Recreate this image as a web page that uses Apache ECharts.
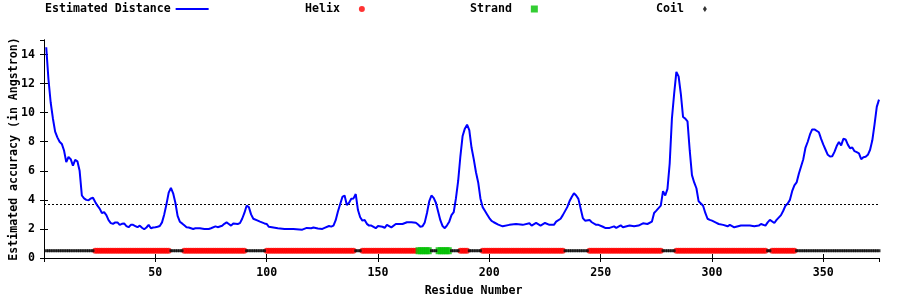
<!DOCTYPE html>
<html>
<head>
<meta charset="utf-8">
<script src="https://cdn.jsdelivr.net/npm/echarts@6/dist/echarts.min.js"></script>
<style>
  html, body { margin: 0; padding: 0; background: #ffffff; }
  #chart { width: 900px; height: 300px; }
</style>
</head>
<body>
<div id="chart"></div>
<script>
// ---- Data ----
var residues = [1,2,3,4,5,6,7,8,9,10,11,12,13,14,15,16,17,18,19,20,21,22,23,24,25,26,27,28,29,30,31,32,33,34,35,36,37,38,39,40,41,42,43,44,45,46,47,48,49,50,51,52,53,54,55,56,57,58,59,60,61,62,63,64,65,66,67,68,70,72,74,75,77,78,80,81,82,83,84,85,87,88,89,90,91,92,93,94,96,97,99,100,101,103,105,108,112,116,118,120,121,123,125,126,128,129,130,131,132,133,134,135,136,137,138,139,140,141,142,143,144,145,146,147,149,150,152,153,154,156,158,161,163,165,167,168,169,170,171,172,173,174,175,176,177,178,179,180,181,182,183,184,185,186,187,188,189,190,191,192,193,194,195,196,197,198,199,200,201,202,204,206,209,212,215,218,219,221,223,225,227,229,230,232,233,235,236,237,238,239,240,241,242,243,245,246,248,249,251,252,254,256,257,259,260,263,265,267,269,271,273,274,275,277,278,279,280,281,282,283,284,285,286,287,288,289,290,291,292,293,294,295,296,297,298,299,300,302,303,305,307,308,310,313,315,317,319,321,322,324,325,326,328,329,331,332,333,334,335,336,337,338,339,340,341,342,343,344,345,346,348,349,350,351,352,353,354,355,356,357,358,359,360,361,362,363,364,365,366,367,368,369,370,371,372,373,374,375];
var distance = [14.5,12.3,10.7,9.6,8.7,8.3,8.0,7.85,7.4,6.6,6.95,6.8,6.35,6.75,6.65,6.0,4.3,4.1,4.0,3.97,4.1,4.14,3.85,3.6,3.4,3.1,3.15,2.95,2.6,2.4,2.35,2.45,2.45,2.28,2.35,2.38,2.2,2.12,2.28,2.28,2.2,2.12,2.23,2.08,1.98,2.1,2.28,2.05,2.1,2.12,2.15,2.2,2.45,3.0,3.7,4.5,4.83,4.45,3.8,2.9,2.5,2.38,2.25,2.12,2.1,2.05,2.0,2.05,2.05,2.0,2.0,2.05,2.18,2.12,2.22,2.35,2.45,2.34,2.23,2.38,2.34,2.4,2.7,3.1,3.6,3.5,3.0,2.7,2.57,2.5,2.38,2.34,2.15,2.1,2.05,2.0,2.0,1.95,2.07,2.05,2.1,2.03,2.0,2.07,2.2,2.16,2.23,2.6,3.2,3.7,4.2,4.3,3.65,3.8,4.07,4.1,4.4,3.3,2.8,2.57,2.62,2.35,2.23,2.23,2.05,2.2,2.15,2.08,2.28,2.11,2.34,2.34,2.46,2.46,2.42,2.3,2.15,2.18,2.45,3.1,3.9,4.3,4.14,3.8,3.2,2.6,2.2,2.05,2.25,2.5,2.95,3.15,4.1,5.3,7.0,8.4,8.9,9.17,8.8,7.6,6.8,5.9,5.2,4.1,3.5,3.25,3.0,2.75,2.55,2.46,2.3,2.18,2.28,2.34,2.28,2.39,2.23,2.41,2.23,2.41,2.28,2.28,2.5,2.7,2.95,3.5,3.9,4.2,4.45,4.3,4.07,3.4,2.75,2.57,2.62,2.46,2.28,2.28,2.15,2.07,2.07,2.18,2.07,2.25,2.11,2.23,2.18,2.23,2.39,2.34,2.5,3.1,3.26,3.6,4.6,4.3,4.76,6.5,9.6,11.3,12.8,12.5,11.3,9.7,9.59,9.4,7.4,5.7,5.2,4.8,3.9,3.75,3.6,3.1,2.7,2.62,2.57,2.42,2.34,2.28,2.18,2.28,2.11,2.23,2.23,2.23,2.18,2.23,2.34,2.23,2.45,2.62,2.41,2.62,2.95,3.25,3.6,3.75,4.0,4.6,5.0,5.2,5.8,6.3,6.8,7.6,8.0,8.5,8.85,8.85,8.65,8.2,7.8,7.45,7.1,6.98,7.0,7.3,7.7,7.98,7.75,8.2,8.16,7.8,7.55,7.6,7.35,7.28,7.2,6.8,6.94,6.96,7.1,7.45,8.1,9.2,10.4,10.9];
var threshold = 3.7;
var residueCount = 375;
var helixRanges = [[23,56],[63,90],[100,139],[143,167],[187,190],[197,233],[245,277],[284,324],[327,337]];
var strandRanges = [[168,173],[177,182]];
var xTicks = [0,50,100,150,200,250,300,350];
var yTicks = [0,2,4,6,8,10,12,14];
var labels = {
  line: 'Estimated Distance', helix: 'Helix', strand: 'Strand', coil: 'Coil',
  xName: 'Residue Number', yName: 'Estimated accuracy (in Angstron)'
};

// ---- Build secondary-structure strip from ranges ----
function inRanges(r, ranges) {
  for (var i = 0; i < ranges.length; i++) if (r >= ranges[i][0] && r <= ranges[i][1]) return true;
  return false;
}
var helixPts = [], strandPts = [], coilPts = [];
for (var r = 1; r <= residueCount; r++) {
  if (inRanges(r, helixRanges)) helixPts.push([r, 0.5]);
  else if (inRanges(r, strandRanges)) strandPts.push([r, 0.5]);
  else coilPts.push([r, 0.5]);
}
var linePts = residues.map(function (r, i) { return [r, distance[i]]; });

var FONT = 'DejaVu Sans Mono';
var txt = { fontFamily: FONT, fontWeight: 'bold', fontSize: 11.6, color: '#000' };

function mkLegend(left, name, icon, w, h, pad) {
  return {
    left: left, top: 3, orient: 'horizontal', align: 'right', selectedMode: false,
    itemWidth: w, itemHeight: h, padding: 0,
    data: [{ name: name, icon: icon }],
    formatter: function (n) { return n + pad; },
    textStyle: { fontFamily: FONT, fontWeight: 'bold', fontSize: 11.6, color: '#000' }
  };
}

var chart = echarts.init(document.getElementById('chart'), null, { renderer: 'canvas' });
chart.setOption({
  animation: false,
  backgroundColor: '#ffffff',
  legend: [
    mkLegend(45, labels.line, 'rect', 33, 2, ''),
    mkLegend(305, labels.helix, 'circle', 6, 6, '  '),
    mkLegend(470, labels.strand, 'rect', 7, 7, '  '),
    mkLegend(656, labels.coil, 'diamond', 4, 6, '  ')
  ],
  grid: { left: 44, right: 21, top: 40, bottom: 42, containLabel: false, outerBoundsMode: 'none' },
  xAxis: [{
    type: 'value', min: xTicks[0], max: residueCount, interval: xTicks[1] - xTicks[0],
    position: 'bottom',
    axisLine: { show: true, lineStyle: { color: '#000', width: 1 } },
    axisTick: { show: true, inside: true, length: 4, lineStyle: { color: '#000' } },
    axisLabel: Object.assign({ margin: 9, showMinLabel: false, showMaxLabel: false }, txt),
    splitLine: { show: false },
    name: labels.xName, nameLocation: 'middle', nameGap: 27, nameMoveOverlap: false,
    nameTextStyle: Object.assign({ padding: [0, 0, 0, 24] }, txt)
  }, {
    type: 'value', min: xTicks[0], max: residueCount, interval: xTicks[1] - xTicks[0],
    position: 'top',
    axisLine: { show: true, lineStyle: { color: '#000', width: 1 } },
    axisTick: { show: true, inside: true, length: 4, lineStyle: { color: '#000' } },
    axisLabel: { show: false }, splitLine: { show: false }
  }],
  yAxis: [{
    type: 'value', min: yTicks[0], max: 15, interval: yTicks[1] - yTicks[0],
    position: 'left',
    axisLine: { show: true, lineStyle: { color: '#000', width: 1 } },
    axisTick: { show: true, inside: true, length: 4, lineStyle: { color: '#000' } },
    axisLabel: Object.assign({ margin: 9, showMaxLabel: false }, txt),
    splitLine: { show: false },
    name: labels.yName, nameLocation: 'middle', nameGap: 24, nameRotate: 90, nameMoveOverlap: false,
    nameTextStyle: txt
  }, {
    type: 'value', min: yTicks[0], max: 15, interval: yTicks[1] - yTicks[0],
    position: 'right',
    axisLine: { show: true, lineStyle: { color: '#000', width: 1 } },
    axisTick: { show: true, inside: true, length: 4, lineStyle: { color: '#000' } },
    axisLabel: { show: false }, splitLine: { show: false }
  }],
  series: [{
    name: labels.line, type: 'line', data: linePts, xAxisIndex: 0, yAxisIndex: 0,
    showSymbol: false, symbol: 'none', color: '#0000ff',
    lineStyle: { color: '#0000ff', width: 2 }, z: 5,
    markLine: {
      silent: true, symbol: ['none', 'none'], label: { show: false },
      lineStyle: { color: '#000', type: [2, 2], width: 1 },
      data: [{ yAxis: threshold }]
    }
  }, {
    name: labels.helix, type: 'scatter', data: helixPts, symbol: 'circle', symbolSize: 6,
    color: '#ff0000', itemStyle: { color: '#ff0000' }, z: 3
  }, {
    name: labels.strand, type: 'scatter', data: strandPts, symbol: 'rect', symbolSize: [5, 7],
    color: '#00c000', itemStyle: { color: '#00c000' }, z: 3
  }, {
    name: labels.coil, type: 'scatter', data: coilPts, symbol: 'rect', symbolSize: [3, 3],
    color: '#000000', itemStyle: { color: '#000000' }, z: 3
  }]
});
</script>
</body>
</html>
